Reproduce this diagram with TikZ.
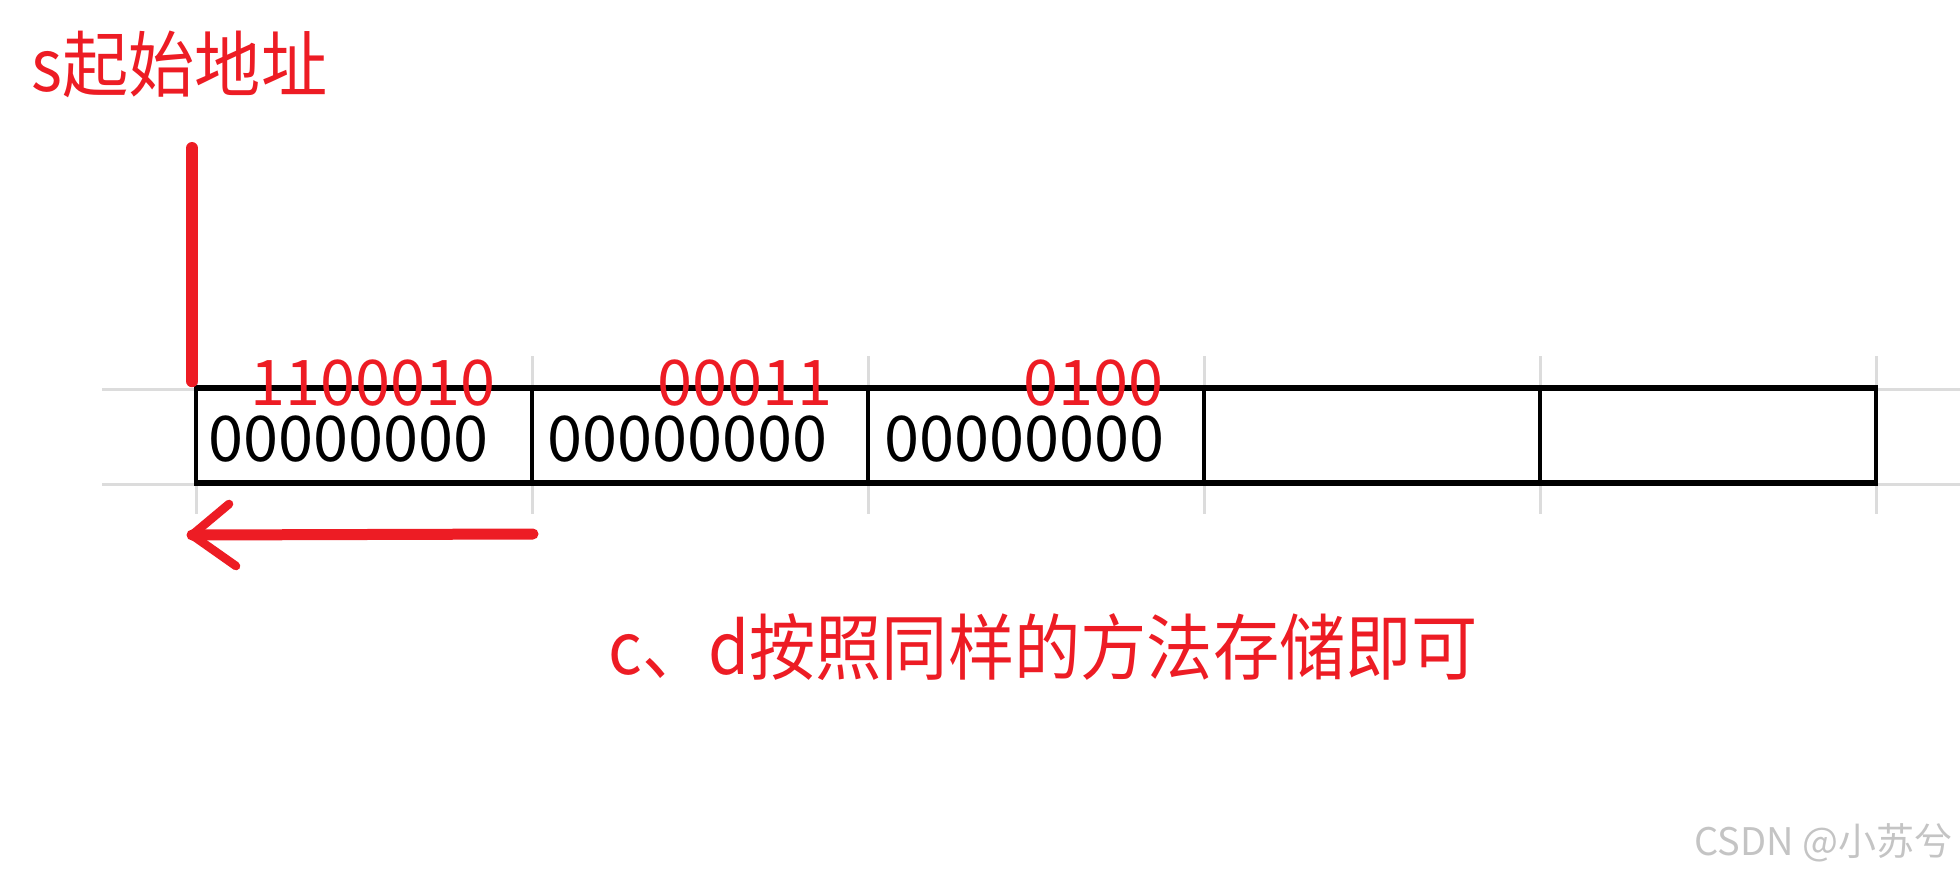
\documentclass[tikz,border=0pt]{standalone}
\usepackage{fontspec}
\newfontfamily\cjk{Noto Sans CJK SC}
\newfontfamily\cjknarrow[FakeStretch=0.92]{Noto Sans CJK SC}
\newfontfamily\cjkdigits[Numbers=Monospaced]{Noto Sans CJK SC}
\definecolor{paintred}{HTML}{ED1C24}
\definecolor{gridgrey}{HTML}{DCDCDC}
\definecolor{markgrey}{HTML}{C4C4C4}
\tikzset{
  gridline/.style={draw=gridgrey, line width=1.5pt},
  cell/.style={draw=black, line width=1.8pt, minimum width=168pt, minimum height=46.5pt, inner sep=0pt},
  bits/.style={font=\cjkdigits\fontsize{31.5pt}{34pt}\selectfont, inner sep=0pt, anchor=base west, text height=23pt, text depth=0pt},
  redbits/.style={bits, text=paintred, anchor=base east},
  redtext/.style={font=\cjknarrow\fontsize{36pt}{40pt}\selectfont, text=paintred, inner sep=0pt, anchor=base west},
  redline/.style={draw=paintred, line width=5.5pt, line cap=round, line join=round}
}
\begin{document}
\begin{tikzpicture}[x=0.5pt, y=-0.5pt]
            \useasboundingbox (0,0) rectangle (1960,875);
            \foreach \x in {196,532,868,1204,1540,1876} \draw [gridline] (\x,356) -- (\x,514);
            \draw [gridline] (102,389) -- (1960,389);
            \draw [gridline] (102,484) -- (1960,484);
            \foreach \i/\cx in {1/364,2/700,3/1036,4/1372,5/1708} \node [cell] (c\i) at (\cx,435.5) {};
            \draw [line width=2.2pt] (c1.north west) -- (c5.north east);
            \draw [line width=2.2pt] (c1.south west) -- (c5.south east);
            \node [bits] (z1) at (208,461) {00000000};
            \node [bits] (z2) at (547,461) {00000000};
            \node [bits] (z3) at (884,461) {00000000};
            \node [redbits] (r1) at (496,405) {1100010};
            \node [redbits] (r2) at (833,405) {00011};
            \node [redbits] (r3) at (1164,405) {0100};
            \node [redtext] (start) at (31,91) {s起始地址};
            \coordinate (stop) at (192,148);
            \draw [redline, line width=6pt] (stop) -- ([yshift=3pt]stop |- c1.north);
            \coordinate (atail) at (533,534);
            \coordinate (ahead) at (192,535);
            \draw [redline] (atail) -- (ahead);
            \draw [redline, line width=4.3pt] (229,504) -- (ahead) -- (236,566);
            \node [redtext] (note) at (608,674) {c、d按照同样的方法存储即可};
            \node [anchor=base east, inner sep=0pt, text=markgrey, font=\cjk\fontsize{19pt}{21pt}\selectfont] (mark) at (1953,855) {CSDN @小苏兮};
\end{tikzpicture}
\end{document}
